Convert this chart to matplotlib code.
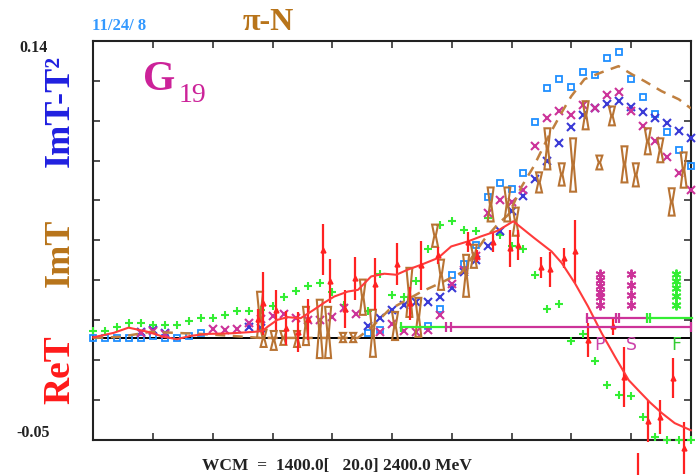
import matplotlib
matplotlib.use("Agg")
import matplotlib.pyplot as plt
import numpy as np
from matplotlib.patches import Polygon

SERIF = ["Liberation Serif", "DejaVu Serif"]

# ---- fitted amplitudes (W in MeV) ----
ret_fit_w = [1400, 1434, 1459, 1490, 1518, 1540, 1563, 1591, 1630, 1669, 1683, 1692,
             1708, 1725, 1747, 1769, 1786, 1803, 1826, 1843, 1865, 1887, 1907, 1926,
             1949, 1977, 1999, 2027, 2049, 2077, 2103, 2117, 2138, 2167, 2184, 2206,
             2228, 2251, 2273, 2296, 2315, 2332, 2351, 2373, 2400]
ret_fit_v = [0.0003, 0.0024, 0.0049, 0.0030, 0.0005, -0.0006, 0.0010, 0.0019, 0.0022,
             0.0029, 0.0033, 0.0054, 0.0086, 0.0099, 0.0094, 0.0134, 0.0167, 0.0197,
             0.0221, 0.0229, 0.0293, 0.0306, 0.0301, 0.0325, 0.0349, 0.0381, 0.0436,
             0.0460, 0.0484, 0.0511, 0.0556, 0.0524, 0.0476, 0.0412, 0.0357, 0.0261,
             0.0150, 0.0022, -0.0089, -0.0201, -0.0258, -0.0308, -0.0357, -0.0406, -0.0440]

imt_fit_w = [1400, 1445, 1496, 1538, 1580, 1630, 1680, 1747, 1843, 1868, 1895, 1949,
             1982, 2016, 2054, 2078, 2095, 2117, 2137, 2162, 2184, 2200, 2222, 2251,
             2279, 2301, 2323, 2351, 2380, 2400]
imt_fit_v = [0.0, 0.0005, 0.0029, 0.0024, 0.0019, 0.0010, 0.0, 0.0, 0.0, 0.0057,
             0.0134, 0.0220, 0.0263, 0.0311, 0.0468, 0.0545, 0.0588, 0.0722, 0.0817,
             0.0961, 0.1075, 0.1152, 0.1233, 0.1266, 0.1295, 0.1257, 0.1223, 0.1176,
             0.1137, 0.1094]

# ---- single-energy values: ReT with errors ----
ret_w = [1675, 1684, 1705, 1722, 1743, 1760, 1784, 1796, 1821, 1838, 1871, 1908,
         1930, 1949, 1977, 2027, 2043, 2069, 2097, 2111, 2150, 2164, 2188, 2206,
         2228, 2270, 2289, 2311, 2329, 2349, 2370, 2389]
ret_v = [0.0088, 0.0165, 0.0134, 0.0048, 0.0029, 0.0088, 0.0421, 0.0272, 0.0139,
         0.0284, 0.0258, 0.0354, 0.0165, 0.0346, 0.0394, 0.0459, 0.0392, 0.0459,
         0.0428, 0.0444, 0.0337, 0.0327, 0.0382, 0.0413, -0.0010, 0.0057, -0.0186,
         -0.0690, -0.0396, -0.0376, -0.0191, -0.0523]
ret_e = [0.0050, 0.0151, 0.0096, 0.0081, 0.0096, 0.0098, 0.0120, 0.0105, 0.0091,
         0.0103, 0.0124, 0.0100, 0.0079, 0.0117, 0.0041, 0.0048, 0.0029, 0.0048,
         0.0088, 0.0072, 0.0050, 0.0084, 0.0048, 0.0151, 0.0081, 0.0043, 0.0143,
         0.0140, 0.0100, 0.0080, 0.0096, 0.0124]

# ---- single-energy values: ImT with errors ----
imt_w = [1679, 1685, 1702, 1718, 1741, 1756, 1779, 1793, 1818, 1835, 1851, 1868,
         1905, 1929, 1944, 1972, 1982, 2024, 2037, 2065, 2093, 2107, 2146, 2160,
         2184, 2203, 2224, 2247, 2268, 2289, 2308, 2328, 2349, 2368, 2388]
imt_v = [0.0110, -0.0002, -0.0012, 0.0000, -0.0005, 0.0057, 0.0043, 0.0026, 0.0002,
         0.0002, 0.0194, 0.0022, 0.0057, 0.0217, 0.0098, 0.0487, 0.0301, 0.0296,
         0.0389, 0.0636, 0.0636, 0.0554, 0.0741, 0.0901, 0.0779, 0.0824, 0.1061,
         0.0836, 0.1058, 0.0827, 0.0777, 0.0937, 0.0894, 0.0648, 0.0800]
imt_e = [0.0110, 0.0041, 0.0045, 0.0033, 0.0038, 0.0091, 0.0139, 0.0122, 0.0022,
         0.0022, 0.0084, 0.0112, 0.0067, 0.0117, 0.0093, 0.0053, 0.0072, 0.0100,
         0.0055, 0.0081, 0.0081, 0.0067, 0.0048, 0.0098, 0.0053, 0.0127, 0.0067,
         0.0033, 0.0045, 0.0086, 0.0055, 0.0062, 0.0057, 0.0065, 0.0084]

# ---- ImT - T^2 (open squares) ----
sq_w = [1400, 1420, 1440, 1460, 1480, 1500, 1520, 1540, 1560, 1580, 1860, 1880,
        1960, 1980, 2000, 2020, 2040, 2060, 2080, 2100, 2120, 2140, 2160, 2180,
        2200, 2220, 2240, 2260, 2280, 2300, 2320, 2340, 2360, 2380, 2400]
sq_v = [0.0001, 0.0001, 0.0001, 0.0001, 0.0001, 0.0010, 0.0001, 0.0001, 0.0010,
        0.0022, 0.0022, 0.0036, 0.0057, 0.0137, 0.0301, 0.0354, 0.0444, 0.0670,
        0.0736, 0.0711, 0.0784, 0.1031, 0.1193, 0.1233, 0.1198, 0.1268, 0.1252,
        0.1332, 0.1363, 0.1233, 0.1150, 0.1069, 0.0981, 0.0895, 0.0819]

# ---- ImT - T^2 (blue crosses) ----
bx_w = [1480, 1500, 1520, 1660, 1680, 1860, 1880, 1900, 1920, 1940, 1960, 1980,
        2000, 2020, 2040, 2060, 2080, 2100, 2120, 2140, 2160, 2180, 2200, 2220,
        2240, 2260, 2280, 2300, 2320, 2340, 2360, 2380, 2400]
bx_v = [0.0029, 0.0038, 0.0024, 0.0053, 0.0046, 0.0057, 0.0093, 0.0134, 0.0158,
        0.0169, 0.0169, 0.0193, 0.0238, 0.0312, 0.0373, 0.0436, 0.0509, 0.0605,
        0.0675, 0.0758, 0.0842, 0.0930, 0.1007, 0.1061, 0.1098, 0.1113, 0.1129,
        0.1102, 0.1079, 0.1050, 0.1023, 0.0986, 0.0954]

# ---- ImT (magenta crosses) ----
mx_w = [1480, 1500, 1520, 1600, 1620, 1640, 1660, 1680, 1700, 1720, 1740, 1760,
        1780, 1800, 1820, 1840, 1880, 1900, 1920, 1940, 1960, 1980, 2000, 2020,
        2040, 2060, 2080, 2100, 2120, 2140, 2160, 2180, 2200, 2220, 2240, 2260,
        2280, 2300, 2320, 2340, 2360, 2380, 2400]
mx_v = [0.0024, 0.0033, 0.0019, 0.0043, 0.0038, 0.0043, 0.0069, 0.0091, 0.0105,
        0.0113, 0.0096, 0.0086, 0.0084, 0.0098, 0.0143, 0.0112, 0.0030, 0.0067,
        0.0033, 0.0029, 0.0038, 0.0110, 0.0257, 0.0322, 0.0392, 0.0596, 0.0659,
        0.0647, 0.0705, 0.0914, 0.1050, 0.1081, 0.1061, 0.1109, 0.1094, 0.1156,
        0.1174, 0.1081, 0.1010, 0.0938, 0.0862, 0.0787, 0.0707]

# ---- ReT (green pluses) ----
gp_w = [1400, 1420, 1440, 1460, 1480, 1500, 1520, 1540, 1560, 1580, 1600, 1620,
        1640, 1660, 1680, 1700, 1720, 1740, 1760, 1780, 1800, 1820, 1860, 1880,
        1900, 1920, 1940, 1960, 1980, 2000, 2020, 2040, 2060, 2080, 2100, 2120,
        2140, 2160, 2180, 2200, 2220, 2240, 2260, 2280, 2300, 2320, 2340, 2360,
        2380, 2400]
gp_v = [0.0033, 0.0033, 0.0054, 0.0073, 0.0073, 0.0062, 0.0062, 0.0062, 0.0083,
        0.0094, 0.0094, 0.0110, 0.0129, 0.0129, 0.0134, 0.0150, 0.0193, 0.0225,
        0.0248, 0.0261, 0.0221, 0.0158, 0.0129, 0.0307, 0.0205, 0.0197, 0.0272,
        0.0425, 0.0540, 0.0559, 0.0516, 0.0511, 0.0572, 0.0492, 0.0440, 0.0425,
        0.0301, 0.0137, 0.0161, -0.0016, 0.0018, -0.0108, -0.0222, -0.0272,
        -0.0279, -0.0377, -0.0470, -0.0485, -0.0485, -0.0485]

# ---- resonance indicators ----
res_w = [2248, 2300, 2375]
res_labels = ["P", "S", "F"]
res_stack_v = [[0.0306, 0.0277, 0.0248, 0.0220, 0.0196, 0.0158],
               [0.0306, 0.0253, 0.0205, 0.0158],
               [0.0306, 0.0272, 0.0239, 0.0201, 0.0158]]
band_lo_v = 0.0051
band_lo_green = [1915, 1991]
band_lo_magenta = [1991, 2400]
band_lo_ticks_g = [1915]
band_lo_ticks_m = [1991, 1999, 2400]
band_hi_v = 0.0097
band_hi_magenta = [2227, 2330]
band_hi_green = [2330, 2402]
band_hi_ticks_m = [2227, 2274, 2279]
band_hi_ticks_g = [2326, 2331]

w_min, w_max = 1400, 2400
y_min, y_max = -0.0485, 0.1415

RED = "#ff2222"
BROWN = "#b8741a"
SKY = "#1f8fff"
BLUE = "#3a3ad6"
MAGENTA = "#cc3399"
GREEN = "#33ee33"

fig = plt.figure(figsize=(6.96, 4.75), dpi=100)
ax = fig.add_axes([93.3 / 696, 1 - 439.7 / 475, 597.5 / 696, 398.7 / 475])
ax.set_xlim(w_min, w_max)
ax.set_ylim(y_min, y_max)
ax.set_xticks(np.arange(w_min, w_max + 1, 100))
ax.set_yticks(np.linspace(y_min, y_max, 11))
ax.tick_params(direction="in", length=5, width=1.1, top=True, right=True,
               labelbottom=False, labelleft=False, colors="#222222")
for s in ax.spines.values():
    s.set_linewidth(1.5)
    s.set_color("#222222")

ax.axhline(0, color="black", lw=1.4, zorder=1)

ax.plot(gp_w, gp_v, ls="none", marker="+", ms=6, mew=1.5, color=GREEN,
        clip_on=False, zorder=3)
ax.plot(sq_w, sq_v, ls="none", marker="s", ms=4.0, mew=1.3, mfc="none",
        mec=SKY, clip_on=False, zorder=3)
ax.plot(bx_w, bx_v, ls="none", marker="x", ms=5.5, mew=1.5, color=BLUE,
        clip_on=False, zorder=3)
ax.plot(mx_w, mx_v, ls="none", marker="x", ms=5.5, mew=1.5, color=MAGENTA,
        clip_on=False, zorder=3)

ax.plot(imt_fit_w, imt_fit_v, ls=(0, (4, 3)), lw=1.8, color="#c08040", zorder=4)

# ImT values drawn as hourglass error boxes
half_w = 5.0
for w, v, e in zip(imt_w, imt_v, imt_e):
    pts = [(w - half_w, v - e), (w + half_w, v - e), (w + 1.2, v),
           (w + half_w, v + e), (w - half_w, v + e), (w - 1.2, v)]
    ax.add_patch(Polygon(pts, closed=True, fc="none", ec="#b87333",
                         lw=1.5, zorder=5))

ax.errorbar(ret_w, ret_v, yerr=ret_e, fmt="^", ms=3.5, color=RED, ecolor=RED,
            elinewidth=1.6, capsize=0, clip_on=False, zorder=6)
ax.plot(ret_fit_w, ret_fit_v, color="#ff3b3b", lw=1.5, clip_on=False, zorder=6)

# resonance stacks and letters
stack_colors = [MAGENTA, MAGENTA, GREEN]
letter_colors = ["#cc44aa", "#cc44aa", "#33cc33"]
for w, vals, c, lab, lc in zip(res_w, res_stack_v, stack_colors, res_labels, letter_colors):
    ax.plot([w] * len(vals), vals, ls="none", marker=(6, 2, 0), ms=7, mew=1.4,
            color=c, zorder=7)
    ax.text(w, -0.0033, lab, color=lc, fontsize=12.5, ha="center", va="center",
            family="DejaVu Sans", zorder=7)

tick_h = 0.0024
ax.plot(band_lo_magenta, [band_lo_v] * 2, color=MAGENTA, lw=1.6, zorder=7)
ax.plot(band_lo_green, [band_lo_v] * 2, color=GREEN, lw=1.6, zorder=7)
ax.vlines(band_lo_ticks_m, band_lo_v - tick_h, band_lo_v + tick_h, color=MAGENTA,
          lw=1.6, zorder=7, clip_on=False)
ax.vlines(band_lo_ticks_g, band_lo_v - tick_h, band_lo_v + tick_h, color=GREEN,
          lw=1.6, zorder=7)
ax.plot(band_hi_magenta, [band_hi_v] * 2, color=MAGENTA, lw=1.6, zorder=7)
ax.plot(band_hi_green, [band_hi_v] * 2, color=GREEN, lw=1.6, zorder=7, clip_on=False)
ax.vlines(band_hi_ticks_m, band_hi_v - tick_h, band_hi_v + tick_h, color=MAGENTA,
          lw=1.6, zorder=7)
ax.vlines(band_hi_ticks_g, band_hi_v - tick_h, band_hi_v + tick_h, color=GREEN,
          lw=1.6, zorder=7)

# ---- annotations ----
def ftext(x, y, s, **kw):
    kw.setdefault("family", SERIF)
    fig.text(x / 696, 1 - y / 475, s, **kw)

ftext(92, 30, "11/24/ 8", color="#3399ff", fontsize=12, weight="bold")
ftext(243, 30.5, "π-N", color=BROWN, fontsize=23, weight="bold")
ftext(143, 90, "G", color="#cc2299", fontsize=30, weight="bold")
ftext(179, 101.5, "19", color="#cc2299", fontsize=20)
ftext(33.5, 47.5, "0.14", fontsize=11.5, weight="bold", ha="center", va="center",
      color="#222222")
ftext(33, 433, "-0.05", fontsize=11.5, weight="bold", ha="center", va="center",
      color="#222222")
ftext(60, 111, "ImT-T²", color="#2020e0", fontsize=26, weight="bold",
      rotation=90, ha="center", va="center")
ftext(60, 253, "ImT", color=BROWN, fontsize=26, weight="bold",
      rotation=90, ha="center", va="center")
ftext(60, 370, "ReT", color="#ff1a1a", fontsize=27, weight="bold",
      rotation=90, ha="center", va="center")
ftext(202, 470.5, "WCM  =  1400.0[   20.0] 2400.0 MeV", fontsize=12.5,
      weight="bold", color="#222222")

fig.savefig("out.png", dpi=100)
